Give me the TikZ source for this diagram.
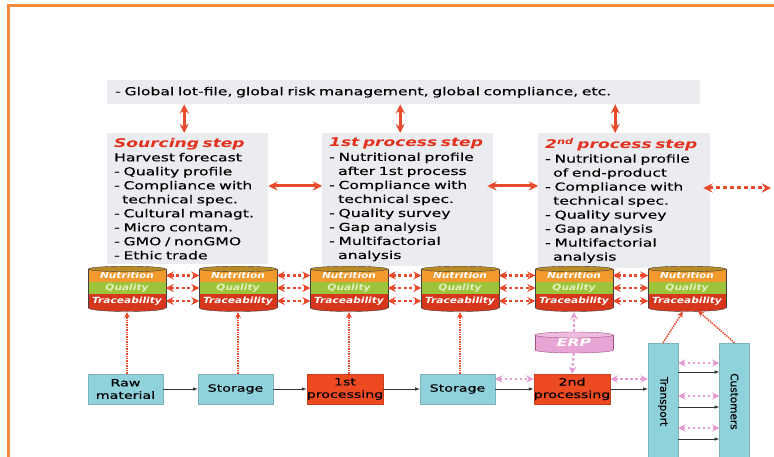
\documentclass[tikz,border=0pt]{standalone}
\usepackage{fontspec}
\setmainfont{DejaVu Sans}[FakeStretch=1.42, UprightFeatures={FakeBold=0.35}]
\newfontfamily\dbfont{DejaVu Sans}[FakeStretch=1.25]
\newfontfamily\upfont{DejaVu Sans}[FakeBold=0.35]
\usetikzlibrary{shapes.geometric, arrows}

\definecolor{stepgray}{HTML}{EAECEF}
\definecolor{arrowred}{HTML}{E84A2B}
\definecolor{headred}{HTML}{E2301C}
\definecolor{nutorange}{HTML}{F29A2E}
\definecolor{qualgreen}{HTML}{9CC43A}
\definecolor{qualtext}{HTML}{E3F0C0}
\definecolor{tracered}{HTML}{D6361C}
\definecolor{rimgold}{HTML}{B98A26}
\definecolor{cyanbox}{HTML}{8FD2DC}
\definecolor{cyanline}{HTML}{7DB3BB}
\definecolor{procred}{HTML}{EE4A22}
\definecolor{erppink}{HTML}{E59BD2}
\definecolor{erpfill}{HTML}{E8A4D4}
\definecolor{erpline}{HTML}{A0507E}
\definecolor{framecol}{HTML}{F7883C}

\tikzstyle{infobox} = [rectangle, fill=stepgray, anchor=north west, align=left, inner xsep=8pt, font=\fontsize{11}{14}\selectfont]
\tikzstyle{stepbox} = [infobox, inner xsep=7pt, inner ysep=5pt]
\tikzstyle{store} = [rectangle, minimum width=75pt, minimum height=30pt, inner sep=0pt, text centered, align=center, draw=cyanline, fill=cyanbox, font=\fontsize{10}{12.5}\selectfont]
\tikzstyle{process} = [store, minimum width=72pt, draw=procred!85!black, fill=procred]
\tikzstyle{carrier} = [store, minimum width=30pt, minimum height=117pt, font=\upfont\fontsize{10.5}{12}\selectfont]
\tikzstyle{band} = [rectangle, minimum width=77pt, inner sep=0pt, text=white, font=\dbfont\fontsize{8.5}{9}\selectfont\bfseries\itshape]
\tikzstyle{erpbody} = [rectangle, minimum width=78pt, minimum height=15pt, inner sep=0pt, fill=erpfill, text=white, font=\fontsize{11}{12}\selectfont\bfseries\itshape]
\tikzstyle{bigarrow} = [line width=3pt, <->, >=stealth, draw=arrowred]
\tikzstyle{dotarrow} = [line width=2.5pt, <->, >=stealth, draw=arrowred, dash pattern=on 3pt off 2.5pt]
\tikzstyle{linkarrow} = [line width=1.6pt, ->, >=stealth, draw=arrowred, dash pattern=on 1.4pt off 1pt]
\tikzstyle{pinkarrow} = [line width=2.2pt, <->, >=stealth, draw=erppink, dash pattern=on 2.5pt off 2.5pt]
\tikzstyle{flow} = [semithick, ->, >=latex, draw=black!80]

\newcommand{\steptitle}[1]{{\fontsize{12}{14}\selectfont\bfseries\itshape\color{headred}#1}}

\begin{document}
\begin{tikzpicture}[x=1pt, y=-1pt]
\useasboundingbox (0,0) rectangle (774,457);
\draw [framecol, line width=3pt] (8,6) rectangle (800,480);

% information layer
\node (glob) [infobox, minimum width=593pt, minimum height=24pt, text width=577pt] at (107,80) {- Global lot-file, global risk management, global compliance, etc.};

\node (src) [stepbox, text width=147pt] at (107,133) {\steptitle{Sourcing step}\\
Harvest forecast\\
- Quality profile\\
- Compliance with\\
\hspace*{8pt}technical spec.\\
- Cultural managt.\\
- Micro contam.\\
- GMO / nonGMO\\
- Ethic trade};
\node (pr1) [stepbox, text width=157pt] at (322,133) {\steptitle{1st process step}\\
- Nutritional profile\\
\hspace*{9pt}after 1st process\\
- Compliance with\\
\hspace*{9pt}technical spec.\\
- Quality survey\\
- Gap analysis\\
- Multifactorial\\
\hspace*{9pt}analysis};
\node (pr2) [stepbox, text width=158pt] at (538,133) {\steptitle{2\textsuperscript{nd} process step}\\
- Nutritional profile\\
\hspace*{8pt}of end-product\\
- Compliance with\\
\hspace*{8pt}technical spec.\\
- Quality survey\\
- Gap analysis\\
- Multifactorial\\
\hspace*{8pt}analysis};
\coordinate (offright) at (771,188);

\draw [bigarrow] ([xshift=-3.5pt]src.north |- glob.south) -- ([xshift=-3.5pt]src.north);
\draw [bigarrow] ([xshift=-7.5pt]pr1.north |- glob.south) -- ([xshift=-7.5pt]pr1.north);
\draw [bigarrow] ([xshift=-9pt]pr2.north |- glob.south) -- ([xshift=-9pt]pr2.north);
\draw [bigarrow] ([yshift=-53pt]src.north east) -- ([yshift=-53pt]pr1.north west);
\draw [bigarrow, shorten <=-6pt] ([yshift=-53pt]pr1.north east) -- ([yshift=-53pt]pr2.north west);
\draw [dotarrow, line width=3pt, dash pattern=on 4pt off 3pt, shorten <=-7pt] ([yshift=-55pt]pr2.north east) -- (offright);

% data cylinders
\foreach \i/\cx in {1/127,2/238,3/349,4/460,5/574,6/687}{
  \filldraw [fill=tracered, draw=black!75] (\cx,308) ellipse [x radius=38.5, y radius=3.5];
  \node (nut\i) [band, fill=nutorange, minimum height=13pt] at (\cx,275.5) {Nutrition};
  \node (qua\i) [band, fill=qualgreen, minimum height=12pt, text=qualtext] at (\cx,288) {Quality};
  \node (trc\i) [band, fill=tracered, minimum height=14pt] at (\cx,301) {Traceability};
  \draw [black!75] (nut\i.north west) -- (trc\i.south west) (nut\i.north east) -- (trc\i.south east);
  \filldraw [fill=rimgold, draw=black!75] (\cx,269) ellipse [x radius=38.5, y radius=2.8];
}
\foreach \i/\j in {1/2,2/3,3/4,4/5,5/6}{
  \draw [dotarrow] (nut\i.east) -- (nut\j.west);
  \draw [dotarrow] (qua\i.east) -- (qua\j.west);
  \draw [dotarrow] (trc\i.east) -- (trc\j.west);
}

% physical flow
\node (raw) [store] at (125.5,389) {Raw\\material};
\node (sto1) [store] at (235.5,389) {Storage};
\node (proc1) [process] at (345,389) {1st\\processing};
\node (sto2) [store] at (457.5,389) {Storage};
\node (proc2) [process] at (572,389) {2nd\\processing};
\node (tra) [carrier] at (663,401.5) {\rotatebox{-90}{Transport}};
\node (cus) [carrier] at (734.5,401.5) {\rotatebox{-90}{Customers}};

\draw [flow] (raw) -- (sto1);
\draw [flow] (sto1) -- (proc1);
\draw [flow] (proc1) -- (sto2);
\draw [flow] (sto2) -- (proc2);
\draw [flow] (proc2.east) -- (proc2.east -| tra.west);
\draw [pinkarrow] ([yshift=10pt]sto2.east) -- ([yshift=10pt]proc2.west);
\draw [pinkarrow] ([yshift=10pt]proc2.east) -- ([yshift=10pt]proc2.east -| tra.west);
\foreach \up/\down in {38.5pt/29.5pt,5.5pt/-5.5pt,-26.5pt/-37.5pt}{
  \draw [pinkarrow] ([yshift=\up]tra.east) -- ([yshift=\up]cus.west);
  \draw [flow] ([yshift=\down]tra.east) -- ([yshift=\down]cus.west);
}

% ERP
\filldraw [fill=erpfill, draw=erpline] (574,350) ellipse [x radius=39, y radius=3];
\node (erp) [erpbody] at (574,342.5) {ERP};
\draw [erpline] (erp.north west) -- (erp.south west) (erp.north east) -- (erp.south east);
\filldraw [fill=erpfill!75!white, draw=erpline] (574,335) ellipse [x radius=39, y radius=3];
\draw [pinkarrow, ->, shorten <=3pt, shorten >=4pt] (erp.north) -- (trc5.south);
\draw [pinkarrow, ->, shorten <=3pt] (erp.south) -- (proc2.north);

% links to the data layer
\foreach \i/\b in {1/raw,2/sto1,3/proc1,4/sto2}
  \draw [linkarrow, shorten >=4pt] (trc\i.south |- \b.north) -- (trc\i.south);
\draw [linkarrow, shorten >=4pt] (tra.north) -- ([xshift=-2pt]trc6.south);
\draw [linkarrow, shorten >=4pt] (cus.north) -- ([xshift=8pt]trc6.south);
\end{tikzpicture}
\end{document}
